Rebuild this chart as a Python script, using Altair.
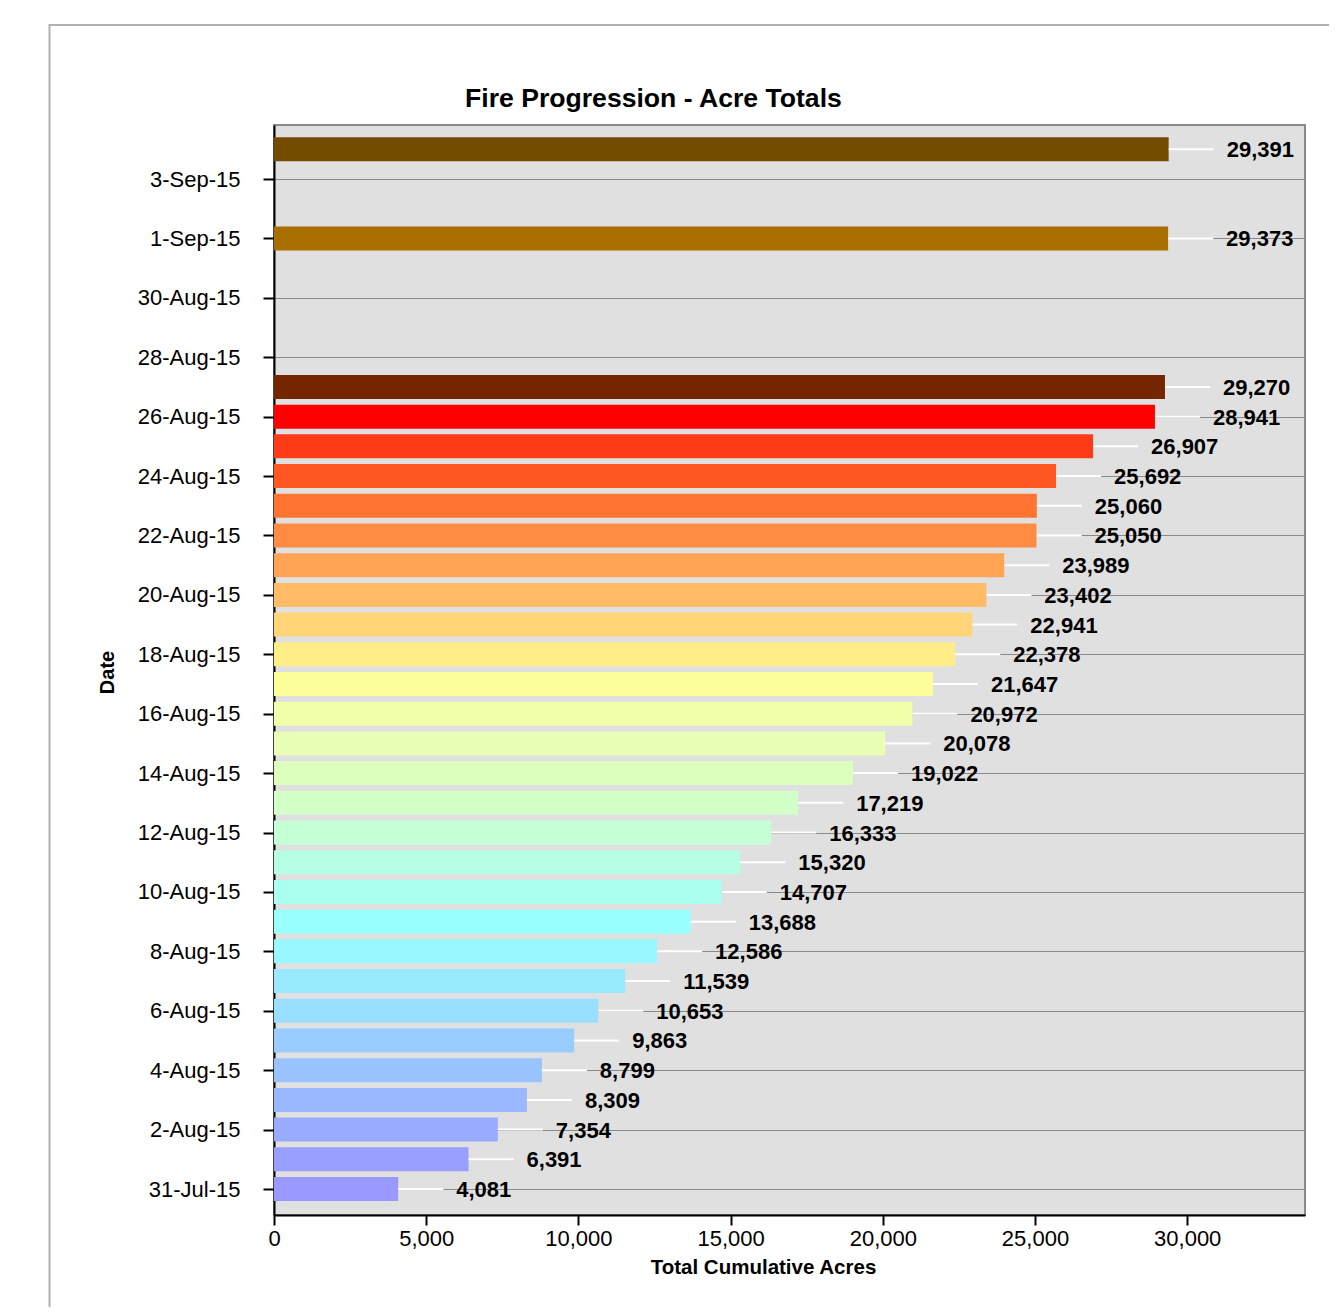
import altair as alt
import pandas as pd

# ---------------- data ----------------
dates = [
    "2015-07-31", "2015-08-01", "2015-08-02", "2015-08-03", "2015-08-04",
    "2015-08-05", "2015-08-06", "2015-08-07", "2015-08-08", "2015-08-09",
    "2015-08-10", "2015-08-11", "2015-08-12", "2015-08-13", "2015-08-14",
    "2015-08-15", "2015-08-16", "2015-08-17", "2015-08-18", "2015-08-19",
    "2015-08-20", "2015-08-21", "2015-08-22", "2015-08-23", "2015-08-24",
    "2015-08-25", "2015-08-26", "2015-08-27", "2015-09-01", "2015-09-04",
]
acres = [
    4081, 6391, 7354, 8309, 8799, 9863, 10653, 11539, 12586, 13688,
    14707, 15320, 16333, 17219, 19022, 20078, 20972, 21647, 22378, 22941,
    23402, 23989, 25050, 25060, 25692, 26907, 28941, 29270, 29373, 29391,
]
colors = [
    "#9999ff", "#999fff", "#99abff", "#99b8ff", "#99c3ff",
    "#99ccff", "#99dfff", "#99eaff", "#99f7ff", "#99ffff",
    "#aaffee", "#b5ffe2", "#c5ffd6", "#d3ffc8", "#ddffbd",
    "#e8ffb5", "#f2ffaa", "#fcff99", "#ffee88", "#ffd577",
    "#ffbb66", "#ffa455", "#ff8c42", "#ff7430", "#ff5722",
    "#ff3a17", "#ff0000", "#742600", "#a86f00", "#744c00",
]
tick_dates = [
    (7, 31), (8, 2), (8, 4), (8, 6), (8, 8), (8, 10), (8, 12), (8, 14),
    (8, 16), (8, 18), (8, 20), (8, 22), (8, 24), (8, 26), (8, 28), (8, 30),
    (9, 1), (9, 3),
]
x_ticks = [0, 5000, 10000, 15000, 20000, 25000, 30000]
title_text = "Fire Progression - Acre Totals"
x_title = "Total Cumulative Acres"
y_title = "Date"

df = pd.DataFrame({
    "date": [d + "T00:00:00" for d in dates],
    "acres": acres,
    "color": colors,
})

FONT = "Liberation Sans"
W, H = 1031, 1090
XMAX = 33870

y_scale = alt.Scale(domain=[
    alt.DateTime(year=2015, month=7, date=30, hours=3),
    alt.DateTime(year=2015, month=9, date=4, hours=19, minutes=38),
], nice=False, padding=0)
x_scale = alt.Scale(domain=[0, XMAX], nice=False, padding=0)

y_axis = alt.Axis(
    values=[alt.DateTime(year=2015, month=m, date=d) for m, d in tick_dates],
    format="%-d-%b-%y",
    title=y_title,
    grid=True, gridColor="#8a8a8a", gridWidth=1.2,
    domainColor="black", domainWidth=2,
    tickColor="black", tickWidth=2, tickSize=11,
    labelPadding=23, labelFont=FONT, labelFontSize=22, labelColor="black",
    labelOverlap=False, labelFlush=False,
    titleFont=FONT, titleFontSize=20, titleFontWeight="bold", titleColor="black",
    titleX=-167, titleY=547, titleAngle=270, titleAlign="center",
    titleBaseline="middle",
)
x_axis = alt.Axis(
    values=x_ticks, format=",d", formatType="number", grid=False, title=x_title,
    domainColor="black", domainWidth=2,
    tickColor="black", tickWidth=2, tickSize=10,
    labelPadding=3, labelFont=FONT, labelFontSize=22, labelColor="black",
    labelFlush=False, labelOverlap=False,
    titleFont=FONT, titleFontSize=20.5, titleFontWeight="bold", titleColor="black",
    titleX=489, titleY=58.5, titleBaseline="alphabetic", titleAlign="center",
)

X = alt.X("acres:Q", scale=x_scale, axis=x_axis, stack=None)
Y = alt.Y("date:T", scale=y_scale, axis=y_axis)

base = alt.Chart(df)

bars = base.mark_bar(orient="horizontal", size=24).encode(
    x=X, y=Y,
    color=alt.Color("color:N", scale=None),
)

leaders = base.transform_calculate(xend="datum.acres + 1480").mark_rule(
    color="white", strokeWidth=2
).encode(
    x=X, x2="xend:Q", y=Y,
)

labels = base.mark_text(
    align="left", baseline="middle", dx=58, dy=1,
    font=FONT, fontSize=22, fontWeight="bold", color="black",
).encode(
    x=X, y=Y,
    text=alt.Text("acres:Q", format=","),
)

title = alt.Chart(pd.DataFrame({"t": [title_text]})).mark_text(
    align="left", baseline="alphabetic",
    font=FONT, fontSize=26.6, fontWeight="bold", color="black",
).encode(
    x=alt.value(191), y=alt.value(-18), text="t:N",
)

frame = alt.Chart(pd.DataFrame({"a": [0]})).mark_rect(
    fillOpacity=0, stroke="#b0b0b0", strokeWidth=2,
).encode(
    x=alt.value(-224.5), x2=alt.value(1150),
    y=alt.value(-100), y2=alt.value(1300),
)

chart = alt.layer(frame, bars, leaders, labels, title).properties(
    width=W, height=H,
    autosize=alt.AutoSizeParams(type="none"),
    padding={"left": 266, "top": 117, "right": 24, "bottom": 92},
    background="white",
).configure_view(
    fill="#e0e0e0", stroke="#8a8a8a", strokeWidth=2,
)

chart.save("out.html", embed_options={"renderer": "svg", "actions": False})
